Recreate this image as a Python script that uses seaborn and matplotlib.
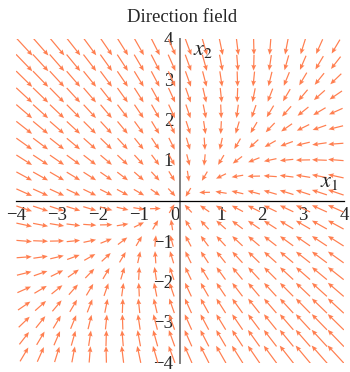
import numpy as np
import matplotlib
matplotlib.use("Agg")
import matplotlib.pyplot as plt
import seaborn as sns

# Linear system  x' = A x  (entries of A)
a11, a12 = -1.0, 0.5
a21, a22 = 0.4, -1.25

# Arrow centres of the direction field along each axis (20 x 20 cells)
grid_values = np.linspace(-3.8, 3.8, 20)

x_ticks = [-4, -3, -2, -1, 0, 1, 2, 3, 4]
y_ticks = [-4, -3, -2, -1, 1, 2, 3, 4]
title = "Direction field"
arrow_color = "#ff7f50"

sns.set_style("white")
plt.rcParams["font.family"] = ["Liberation Serif", "DejaVu Serif"]
plt.rcParams["mathtext.fontset"] = "stix"

fig = plt.figure(figsize=(3.5, 3.72), dpi=100)
ax = fig.add_axes([16 / 350, 1 - 362.5 / 372, 328 / 350, 324 / 372])

X, Y = np.meshgrid(grid_values, grid_values)
U = a11 * X + a12 * Y
V = a21 * X + a22 * Y
mag = np.hypot(U, V)
# arrow length grows with the speed of the field
length = 0.24 + 0.042 * mag
Un = U / mag * length
Vn = V / mag * length

ax.quiver(X, Y, Un, Vn, angles="xy", scale_units="xy",
          scale=1, pivot="middle", color=arrow_color, width=0.0037,
          headwidth=4, headlength=4.8, headaxislength=4.2, zorder=1)

ax.set_xlim(-4, 4)
ax.set_ylim(-4, 4)
for s in ["top", "right"]:
    ax.spines[s].set_visible(False)
ax.spines["bottom"].set_position("zero")
ax.spines["left"].set_position("zero")
ax.spines["bottom"].set_color("black")
ax.spines["bottom"].set_linewidth(0.9)
ax.spines["left"].set_color("#808080")
ax.spines["left"].set_linewidth(1.4)
ax.spines["bottom"].set_zorder(3)
ax.spines["left"].set_zorder(3)


def fmt(t):
    return f"\u2212{abs(t)}" if t < 0 else str(t)


ax.set_xticks(x_ticks)
ax.set_xticklabels([fmt(t) for t in x_ticks])
ax.set_yticks(y_ticks)
ax.set_yticklabels([fmt(t) for t in y_ticks])
ax.set_xticks(np.arange(-4, 4.01, 0.5), minor=True)
ax.set_yticks(np.arange(-4, 4.01, 0.5), minor=True)
ax.tick_params(axis="both", which="both", direction="out", length=3,
               width=0.8, color="black", labelsize=13.5, pad=2)
for lab in ax.get_xticklabels():
    if lab.get_text() == "0":
        lab.set_horizontalalignment("right")

ax.text(3.42, 0.33, "$x_1$", fontsize=16, va="baseline", ha="left")
ax.text(0.32, 3.59, "$x_2$", fontsize=16, va="baseline", ha="left")

fig.text(0.52, 1 - 22 / 372, title, ha="center", va="baseline", fontsize=13.5)

fig.savefig("out.png", dpi=100)
